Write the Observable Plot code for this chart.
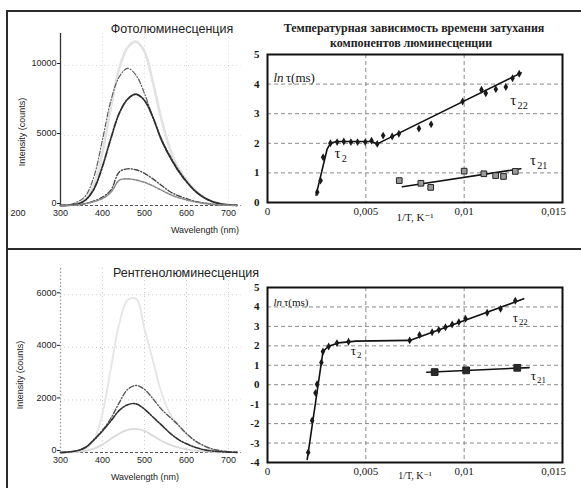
<!DOCTYPE html>
<html>
<head>
<meta charset="utf-8">
<script src="https://cdn.jsdelivr.net/npm/d3@7"></script>
<script src="https://cdn.jsdelivr.net/npm/@observablehq/plot@0.6"></script>
<style>
  html, body { margin: 0; padding: 0; background: #fff; }
  body { position: relative; width: 581px; height: 488px; overflow: hidden; font-family: "Liberation Sans", Arial, sans-serif; color: #222; }
  .box { position: absolute; }
  .rule { position: absolute; background: #2b2b2b; }
  .lbl { position: absolute; white-space: nowrap; transform: translate(-50%, -50%); line-height: 1; }
  .serif { font-family: "Liberation Serif", "DejaVu Serif", serif; font-weight: bold; }
</style>
</head>
<body>
<script>
// ---------- Emission spectra (intensity in counts) ----------
const wavelengths = [300,320,340,360,380,400,420,440,460,480,500,520,540,560,580,600,620,640,660,680,700,720];

// photoluminescence spectra
const plA = [0,30,120,450,1500,3800,7000,9800,11300,11700,11000,8800,6200,4100,2700,1800,1100,600,300,130,50,15];
const plB = [0,40,250,700,2100,4700,7500,9200,9800,9300,8000,6300,4800,3600,2600,1750,1050,600,300,130,50,15];
const plC = [0,20,100,400,1200,2800,4800,6600,7600,7950,7500,6300,4700,3500,2500,1700,1050,600,300,130,50,15];
const plD = [0,10,40,150,320,600,1100,2400,2620,2550,2300,1900,1450,1000,700,480,300,180,100,50,20,5];
const plE = [0,10,40,130,280,500,950,1800,1900,1820,1650,1400,1100,800,570,400,260,160,90,45,20,5];

// X-ray luminescence spectra
const xlF = [0,10,40,150,500,1500,3200,4900,5800,5850,4700,3500,2300,1500,1050,700,450,260,130,60,25,10];
const xlG = [0,20,70,200,500,850,1300,1900,2400,2550,2400,2050,1650,1350,1050,720,450,270,140,70,30,10];
const xlH = [0,20,70,200,480,820,1200,1600,1820,1850,1650,1350,1050,750,500,330,200,110,60,30,15,5];
const xlI = [0,5,20,60,150,300,520,720,860,900,820,640,450,300,190,120,70,40,20,10,5,0];

const wlTicks = [300,400,500,600,700];
const plTicks = [0,5000,10000];
const xlTicks = [0,2000,4000,6000];

// ---------- Decay times: ln τ (ms) against 1/T (K^-1) ----------
const plTau2 = [[0.00253,0.35],[0.0027,0.74],[0.00283,1.53],[0.0032,2.0],[0.00354,2.04],[0.00388,2.06],[0.00424,2.04],[0.00458,2.04],[0.00497,2.04],[0.00529,2.09],[0.00558,1.98]];
const plTau22 = [[0.00588,2.26],[0.00634,2.23],[0.00668,2.32],[0.0077,2.5],[0.00832,2.64],[0.00992,3.41],[0.01088,3.81],[0.0111,3.69],[0.01161,3.83],[0.01212,3.9],[0.01246,4.2],[0.0128,4.35]];
const plTau21 = [[0.0067,0.74],[0.0078,0.65],[0.0083,0.51],[0.01,1.06],[0.011,0.97],[0.0116,0.91],[0.012,0.88],[0.0126,1.05]];
const plFit2 = [[0.00247,0.25],[0.00303,1.8],[0.0032,2.0],[0.0035,2.06],[0.0053,2.06],[0.00558,1.98],[0.0129,4.38]];
const plFit21 = [[0.00686,0.53],[0.01288,1.14]];

const xlTau2 = [[0.00207,-3.48],[0.00227,-1.84],[0.00244,-0.42],[0.00252,0.02],[0.00274,1.14],[0.00282,1.71],[0.00311,1.97],[0.00353,2.14],[0.00412,2.21]];
const xlTau22 = [[0.00723,2.28],[0.00773,2.56],[0.00837,2.7],[0.00871,2.82],[0.00905,2.96],[0.00939,3.1],[0.00973,3.22],[0.01007,3.39],[0.01117,3.7],[0.01185,3.9],[0.0126,4.32]];
const xlTau21 = [[0.0085,0.65],[0.0101,0.74],[0.0127,0.87]];
const xlFit2 = [[0.00202,-3.84],[0.00282,1.7],[0.0031,1.98],[0.0036,2.15],[0.0045,2.24],[0.00723,2.28],[0.01303,4.42]];
const xlFit21 = [[0.0081,0.64],[0.0133,0.88]];

const invTTicks = [0,0.005,0.01,0.015];
const plLnTicks = [0,1,2,3,4,5];
const xlLnTicks = [-4,-3,-2,-1,0,1,2,3,4,5];

// component tags: symbol, subscript, 1/T, ln τ
const plTags = [["τ","2",0.00356,1.65],["τ","22",0.0125,3.45],["τ","21",0.0135,1.42]];
const xlTags = [["τ","2",0.00437,1.76],["τ","22",0.0126,3.46],["τ","21",0.01352,0.48]];

// ---------- helpers ----------
const body = document.body;
function place(node, left, top) {
  const d = document.createElement("div");
  d.className = "box";
  d.style.left = left + "px";
  d.style.top = top + "px";
  d.appendChild(node);
  body.appendChild(d);
}
function rule(left, top, w, h) {
  const d = document.createElement("div");
  d.className = "rule";
  Object.assign(d.style, {left: left + "px", top: top + "px", width: w + "px", height: h + "px"});
  body.appendChild(d);
}
function label(text, x, y, css = {}) {
  const d = document.createElement("div");
  d.className = "lbl";
  d.textContent = text;
  d.style.left = x + "px";
  d.style.top = y + "px";
  Object.assign(d.style, css);
  body.appendChild(d);
  return d;
}
const pts = a => a.map(([x, y]) => ({x, y}));
const series = vals => wavelengths.map((nm, i) => ({nm, v: vals[i]}));
const comma = d => String(d).replace(".", ",");

function spectrumPlot({curves, yDomain, yTicks, height, marginTop, marginBottom, axisStroke, axisDash, gridOpacity}) {
  return Plot.plot({
    width: 245, height, marginLeft: 60, marginRight: 4.4, marginTop, marginBottom,
    style: {fontFamily: "'Liberation Sans', Arial, sans-serif", fontSize: "9px", color: "#1e1e1e", background: "transparent"},
    x: {domain: [300, 730], label: null},
    y: {domain: yDomain, label: null},
    marks: [
      Plot.gridX([400, 500, 600, 700], {stroke: "#9a9a9a", strokeOpacity: gridOpacity, strokeDasharray: "1,3"}),
      Plot.gridY(yTicks.filter(d => d > 0), {stroke: "#9a9a9a", strokeOpacity: gridOpacity, strokeDasharray: "1,3"}),
      Plot.axisX(wlTicks, {tickSize: 0, tickPadding: 4, tickFormat: d => String(d), label: null}),
      Plot.axisY(yTicks, {tickSize: 3, tickPadding: 1, dy: -2, tickFormat: d => String(d), label: null}),
      Plot.ruleY([0], {stroke: "#555", strokeDasharray: "3,2"}),
      ...curves.map(c => Plot.line(series(c.vals), {x: "nm", y: "v", curve: "catmull-rom", stroke: c.stroke, strokeWidth: c.width, strokeDasharray: c.dash})),
      Plot.ruleX([300], {stroke: axisStroke, strokeWidth: 1.3, strokeDasharray: axisDash})
    ]
  });
}

function decayPlot({yDomain, yTicks, height, marginTop, marginBottom, fit2, fit21, tau2, tau22, tau21, tags, unitDy, unitSize, xLabelDy, xLabelSize, tagSize, squareR, squareFill}) {
  const serif = "'Liberation Serif', 'DejaVu Serif', serif";
  return Plot.plot({
    width: 341, height, marginLeft: 27, marginRight: 19, marginTop, marginBottom,
    style: {fontFamily: serif, fontSize: "11px", color: "#151515", background: "transparent"},
    x: {domain: [0, 0.015], label: null},
    y: {domain: yDomain, label: null},
    marks: [
      Plot.gridY(yTicks.filter(d => d > yDomain[0] && d < yDomain[1]), {stroke: "#8a8a8a", strokeOpacity: 1, strokeDasharray: "4,3"}),
      Plot.gridX([0.005, 0.01], {stroke: "#8a8a8a", strokeOpacity: 1, strokeDasharray: "4,3"}),
      Plot.axisY(yTicks, {tickSize: 0, tickPadding: 8, tickFormat: d => String(d), fontWeight: "bold", label: null}),
      Plot.axisX(invTTicks.slice(0, 3), {tickSize: 0, tickPadding: 5, tickFormat: comma, label: null}),
      Plot.axisX(invTTicks.slice(3), {tickSize: 0, tickPadding: 5, tickFormat: comma, dx: -9, label: null}),
      Plot.line(pts(fit2), {x: "x", y: "y", stroke: "#111", strokeWidth: 1.6}),
      Plot.line(pts(fit21), {x: "x", y: "y", stroke: "#111", strokeWidth: 1.6}),
      Plot.dot(pts(tau2.concat(tau22)), {x: "x", y: "y", symbol: "diamond", r: 2.4, fill: "#1a1a1a"}),
      Plot.dot(pts(tau21), {x: "x", y: "y", symbol: "square", r: squareR, fill: squareFill, stroke: "#222", strokeWidth: 1}),
      Plot.text(tags, {x: d => d[2], y: d => d[3], text: d => d[0], fontSize: tagSize, fill: "#111", textAnchor: "middle"}),
      Plot.text(tags, {x: d => d[2], y: d => d[3], text: d => d[1], fontSize: tagSize * 0.68, fill: "#111", textAnchor: "start", dx: tagSize * 0.28, dy: tagSize * 0.35}),
      Plot.text(["ln"], {text: d => d, frameAnchor: "top-left", dx: 6, dy: unitDy, fontStyle: "italic", fontSize: unitSize, textAnchor: "start", fill: "#151515"}),
      Plot.text(["τ(ms)"], {text: d => d, frameAnchor: "top-left", dx: 6 + unitSize * 0.95, dy: unitDy, fontSize: unitSize, textAnchor: "start", fill: "#151515"}),
      Plot.text(["1/T, K⁻¹"], {text: d => d, frameAnchor: "bottom", dy: xLabelDy, fontSize: xLabelSize, fill: "#151515"}),
      Plot.frame({stroke: "#111", strokeWidth: 2})
    ]
  });
}

// ---------- page frame ----------
rule(6, 10, 575, 2);
rule(6, 10, 2, 478);
rule(6, 248, 575, 2);

// ---------- photoluminescence spectra ----------
place(spectrumPlot({
  curves: [
    {vals: plA, stroke: "#e2e2e2", width: 2.6, dash: null},
    {vals: plB, stroke: "#5e5e5e", width: 1.2, dash: "5,2,1,2"},
    {vals: plC, stroke: "#2c2c2c", width: 1.8, dash: "6,1.5,1.5,1.5"},
    {vals: plD, stroke: "#444", width: 1.4, dash: "5,2,1,2"},
    {vals: plE, stroke: "#8c8c8c", width: 1.6, dash: "3,1.5"}
  ],
  yDomain: [0, 12286], yTicks: plTicks, height: 200, marginTop: 8, marginBottom: 20,
  axisStroke: "#333", axisDash: null, gridOpacity: 0.35
}), 0, 25);

label("Фотолюминесценция", 172, 29, {fontSize: "12.5px", color: "#222"});
label("Intensity (counts)", 22, 132, {fontSize: "9px", transform: "translate(-50%,-50%) rotate(-90deg)"});
label("Wavelength (nm)", 205, 230, {fontSize: "9px"});
label("200", 18, 213, {fontSize: "9px"});

// ---------- X-ray luminescence spectra ----------
place(spectrumPlot({
  curves: [
    {vals: xlF, stroke: "#e6e6e6", width: 2, dash: "2,1.2"},
    {vals: xlI, stroke: "#dadada", width: 1.8, dash: null},
    {vals: xlG, stroke: "#555", width: 1.4, dash: "5,2,1,2"},
    {vals: xlH, stroke: "#303030", width: 1.6, dash: "6,1.5,1.5,1.5"}
  ],
  yDomain: [0, 7000], yTicks: xlTicks, height: 233, marginTop: 13, marginBottom: 36,
  axisStroke: "#999", axisDash: "1.5,2", gridOpacity: 0.5
}), 0, 255);

label("Рентгенолюминесценция", 186, 273, {fontSize: "12.5px", color: "#222"});
label("Intensity (counts)", 20, 375, {fontSize: "9px", transform: "translate(-50%,-50%) rotate(-90deg)"});
label("Wavelength (nm)", 145, 477, {fontSize: "9px"});

// ---------- decay time, photoexcitation ----------
place(decayPlot({
  yDomain: [0, 5], yTicks: plLnTicks, height: 190, marginTop: 14, marginBottom: 28,
  fit2: plFit2, fit21: plFit21, tau2: plTau2, tau22: plTau22, tau21: plTau21, tags: plTags,
  unitDy: 18, unitSize: 13, xLabelDy: 18, xLabelSize: 11, tagSize: 15, squareR: 3.2, squareFill: "#9a9a9a"
}), 240, 40);

label("Температурная зависимость времени затухания", 414, 28, {fontSize: "12px"}).classList.add("serif");
label("компонентов люминесценции", 411, 43, {fontSize: "12px"}).classList.add("serif");

// ---------- decay time, X-ray excitation ----------
place(decayPlot({
  yDomain: [-4, 5], yTicks: xlLnTicks, height: 213, marginTop: 12, marginBottom: 26,
  fit2: xlFit2, fit21: xlFit21, tau2: xlTau2, tau22: xlTau22, tau21: xlTau21, tags: xlTags,
  unitDy: 11, unitSize: 11, xLabelDy: 16, xLabelSize: 10, tagSize: 13, squareR: 3.8, squareFill: "#2a2a2a"
}), 240, 275);
</script>
</body>
</html>
